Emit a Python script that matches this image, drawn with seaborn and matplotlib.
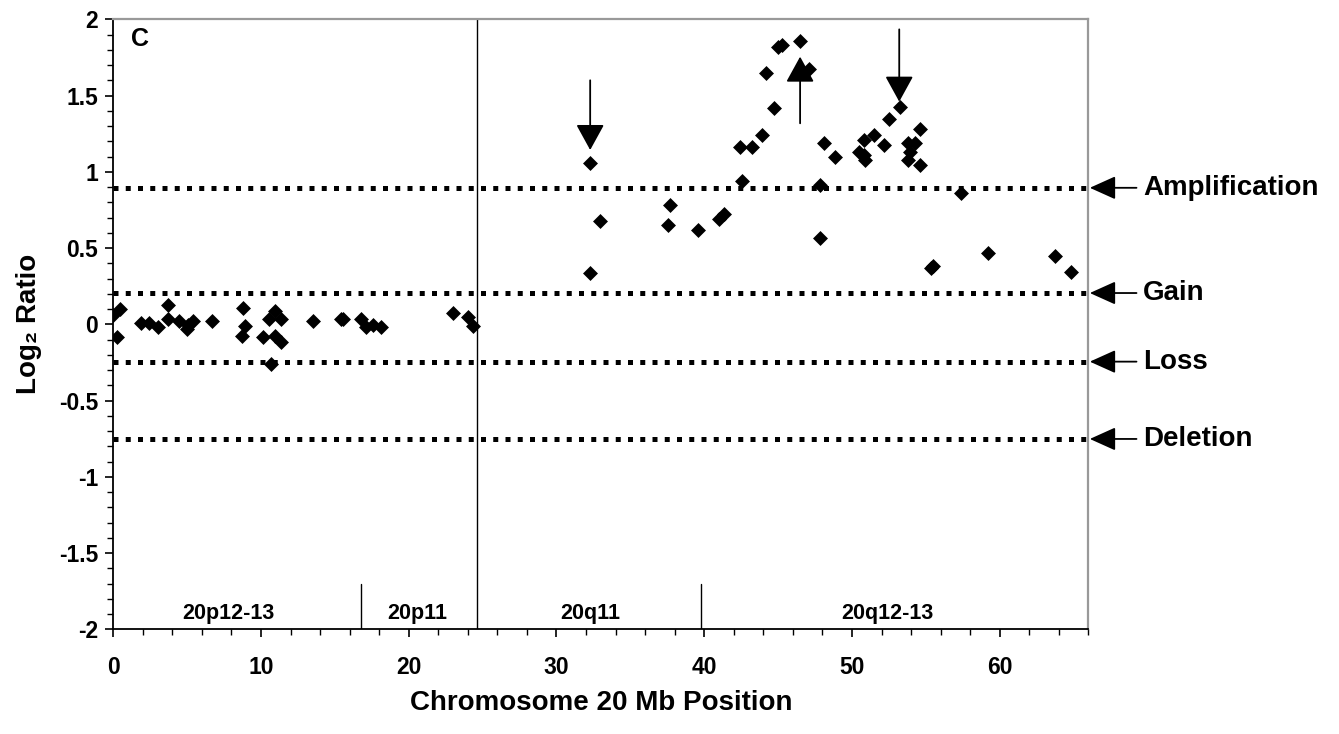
import matplotlib
matplotlib.use("Agg")
import matplotlib.pyplot as plt
import seaborn as sns
from matplotlib.ticker import MultipleLocator

# clone positions (Mb) and log2 ratios
pos_mb = [0.0, 0.45, 0.27, 1.87, 2.43, 3.0, 3.68, 3.68, 4.46, 5.0, 5.03, 5.4,
          6.65, 8.78, 8.9, 8.68, 10.14, 10.54, 10.93, 11.38, 10.93, 11.38,
          10.68, 13.5, 15.4, 15.55, 16.74, 17.12, 17.57, 18.14, 22.97, 24.03,
          24.37,
          32.28, 32.28, 32.95, 37.69, 37.57, 39.57, 40.99, 41.33, 42.43, 43.24,
          43.92, 42.57, 44.7, 44.17, 45.0, 45.27, 46.49, 47.12, 48.09, 48.88,
          47.86, 47.86, 50.8, 50.45, 50.8, 50.9, 51.47, 52.19, 52.53, 53.27,
          54.62, 53.82, 54.27, 53.9, 53.78, 54.62, 57.39, 55.34, 55.46, 59.19,
          63.74, 64.86]
log2_ratio = [0.06, 0.10, -0.085, 0.01, 0.01, -0.02, 0.127, 0.033, 0.02, -0.03,
              -0.007, 0.02, 0.02, 0.11, -0.01, -0.075, -0.085, 0.033, 0.087,
              0.033, -0.08, -0.114, -0.26, 0.02, 0.035, 0.035, 0.035, -0.02,
              -0.005, -0.02, 0.074, 0.046, -0.01,
              1.056, 0.334, 0.677, 0.78, 0.65, 0.62, 0.69, 0.72, 1.16, 1.16,
              1.24, 0.94, 1.42, 1.65, 1.816, 1.833, 1.856, 1.672, 1.187, 1.10,
              0.913, 0.568, 1.21, 1.13, 1.11, 1.077, 1.24, 1.176, 1.344, 1.423,
              1.28, 1.187, 1.187, 1.13, 1.08, 1.045, 0.86, 0.37, 0.38, 0.466,
              0.45, 0.345]

# threshold lines
thr_names = ['Amplification', 'Gain', 'Loss', 'Deletion']
thr_values = [0.895, 0.205, -0.245, -0.752]

# cytoband boxes along the bottom
band_edges = [16.75, 39.75]
centromere = 24.6
band_names = ['20p12-13', '20p11', '20q11', '20q12-13']
band_centers = [7.8, 20.6, 32.3, 52.4]

# arrows in the plot: (x, tail y, tip y)
arrows = [(32.28, 1.60, 1.143), (46.49, 1.318, 1.755), (53.2, 1.934, 1.46)]

sns.set_style('ticks')
plt.rcParams['font.family'] = ['Liberation Sans', 'DejaVu Sans']
plt.rcParams['font.weight'] = 'bold'
plt.rcParams['text.color'] = 'black'
plt.rcParams['axes.labelcolor'] = 'black'
plt.rcParams['xtick.color'] = 'black'
plt.rcParams['ytick.color'] = 'black'

fig = plt.figure(figsize=(13.39, 7.34), dpi=100)
fig.set_facecolor('white')
ax = fig.add_axes([0.0846, 0.1427, 0.7282, 0.831])

for v in thr_values:
    ax.plot([0, 66], [v, v], color='black', lw=3.6, linestyle=(0, (1, 1.45)),
            dash_capstyle='butt', zorder=2)

sns.scatterplot(x=pos_mb, y=log2_ratio, marker='D', color='black', s=58,
                linewidth=0, ax=ax, zorder=3)

ax.axvline(centromere, color='black', lw=1.0, zorder=1)
for e in band_edges:
    ax.plot([e, e], [-2, -1.7], color='black', lw=1.0)
for name, c in zip(band_names, band_centers):
    ax.text(c, -1.895, name, ha='center', va='center', fontsize=15.5,
            fontweight='bold')

for x, y0, y1 in arrows:
    ax.annotate('', xy=(x, y1), xytext=(x, y0),
                arrowprops=dict(arrowstyle='-|>,head_length=1.0,head_width=0.55',
                                color='black', lw=1.3, mutation_scale=16,
                                shrinkA=0, shrinkB=0))

for name, v in zip(thr_names, thr_values):
    ax.annotate('', xy=(66.1, v), xytext=(69.26, v), annotation_clip=False,
                arrowprops=dict(arrowstyle='-|>,head_length=1.0,head_width=0.45',
                                color='black', lw=1.3, mutation_scale=16,
                                shrinkA=0, shrinkB=0))
    ax.text(69.7, v, name, ha='left', va='center', fontsize=20,
            fontweight='bold', clip_on=False)

ax.text(0.018, 0.987, 'C', transform=ax.transAxes, ha='left', va='top',
        fontsize=18, fontweight='bold')

ax.set_xlim(0, 66)
ax.set_ylim(-2, 2)
ax.xaxis.set_major_locator(MultipleLocator(10))
ax.xaxis.set_minor_locator(MultipleLocator(2))
ax.yaxis.set_major_locator(MultipleLocator(0.5))
ax.yaxis.set_minor_locator(MultipleLocator(0.1))
ax.set_yticks([2, 1.5, 1, 0.5, 0, -0.5, -1, -1.5, -2])
ax.set_yticklabels(['2', '1.5', '1', '0.5', '0', '-0.5', '-1', '-1.5', '-2'])
ax.tick_params(axis='both', which='major', direction='out', length=6,
               width=1.2, labelsize=16.5, color='black')
ax.tick_params(axis='both', which='minor', direction='out', length=4,
               width=1.0, color='black')
ax.tick_params(axis='x', which='major', pad=13)
ax.tick_params(axis='y', which='major', pad=5)
for lab in ax.get_xticklabels() + ax.get_yticklabels():
    lab.set_fontweight('bold')

ax.set_xlabel('Chromosome 20 Mb Position', fontsize=20, fontweight='bold',
              labelpad=8)
ax.set_ylabel('Log₂ Ratio', fontsize=20, fontweight='bold', labelpad=12)

for s in ['left', 'bottom']:
    ax.spines[s].set_color('black')
    ax.spines[s].set_linewidth(1.3)
for s in ['top', 'right']:
    ax.spines[s].set_color('#999999')
    ax.spines[s].set_linewidth(1.6)

fig.savefig('out.png', dpi=100, facecolor='white')
